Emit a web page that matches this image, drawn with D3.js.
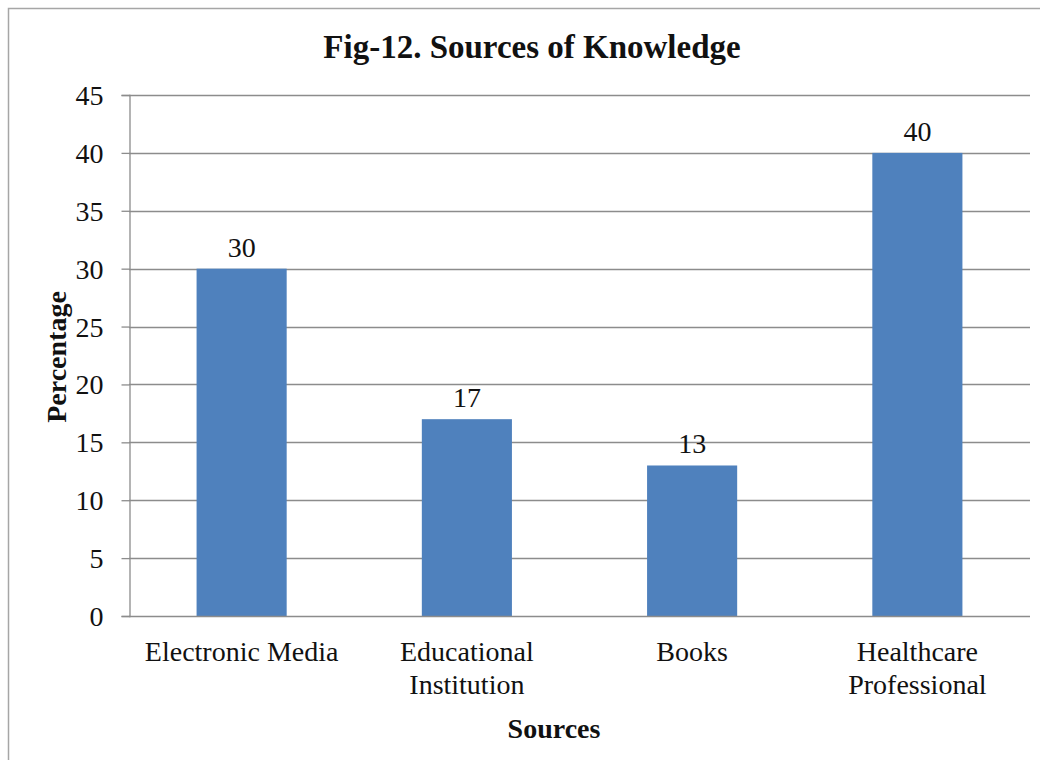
<!DOCTYPE html>
<html>
<head>
<meta charset="utf-8">
<script src="https://cdn.jsdelivr.net/npm/d3@7/dist/d3.min.js"></script>
<style>
  html, body { margin: 0; padding: 0; background: #fff; }
  svg { display: block; font-family: "Liberation Serif", "Times New Roman", serif; }
</style>
</head>
<body>
<svg id="chart" width="1040" height="760"></svg>
<script>
// Sources of knowledge (percentage of respondents)
const categories = ["Electronic Media", "Educational Institution", "Books", "Healthcare Professional"];
const categoryLines = [["Electronic Media"], ["Educational", "Institution"], ["Books"], ["Healthcare", "Professional"]];
const percentages = [30, 17, 13, 40];
const yTicks = [0, 5, 10, 15, 20, 25, 30, 35, 40, 45];

const svg = d3.select("#chart");
const plot = { left: 129, right: 1030, top: 95, bottom: 616 };
const FONT = "'Liberation Serif', 'Times New Roman', serif";
const FS = 28;

// outer chart frame
svg.append("rect")
  .attr("x", 8.5).attr("y", 8.5)
  .attr("width", 1100).attr("height", 800)
  .attr("fill", "#fff").attr("stroke", "#a6a6a6").attr("stroke-width", 1.5);

const x = d3.scaleBand().domain(categories).range([plot.left, plot.right]).paddingInner(0.6).paddingOuter(0.3);
const y = d3.scaleLinear().domain([0, 45]).range([plot.bottom, plot.top]);

// horizontal gridlines
svg.append("g").selectAll("line").data(yTicks.filter(d => d > 0)).join("line")
  .attr("x1", plot.left).attr("x2", plot.right)
  .attr("y1", d => Math.round(y(d)) + 0.5).attr("y2", d => Math.round(y(d)) + 0.5)
  .attr("stroke", "#8c8c8c").attr("stroke-width", 1.3);

// y axis
const yAxis = svg.append("g").attr("transform", `translate(${plot.left + 0.5},0)`)
  .call(d3.axisLeft(y).tickValues(yTicks).tickSize(8).tickPadding(18));
yAxis.attr("font-family", FONT).attr("font-size", FS);
yAxis.select(".domain").attr("stroke", "#8c8c8c").attr("stroke-width", 1.3);
yAxis.selectAll(".tick line").attr("stroke", "#8c8c8c").attr("stroke-width", 1.3);
yAxis.selectAll(".tick text").attr("fill", "#111").attr("dy", "0.34em");

// bars
svg.append("g").selectAll("rect").data(percentages).join("rect")
  .attr("x", (d, i) => x(categories[i]))
  .attr("y", d => y(d))
  .attr("width", x.bandwidth())
  .attr("height", d => y(0) - y(d))
  .attr("fill", "#4f81bd");

// value labels
svg.append("g").selectAll("text").data(percentages).join("text")
  .attr("x", (d, i) => x(categories[i]) + x.bandwidth() / 2)
  .attr("y", d => y(d) - 12)
  .attr("text-anchor", "middle")
  .attr("font-family", FONT).attr("font-size", FS).attr("fill", "#111")
  .text(d => d);

// x axis baseline
svg.append("line")
  .attr("x1", plot.left).attr("x2", plot.right)
  .attr("y1", plot.bottom + 0.5).attr("y2", plot.bottom + 0.5)
  .attr("stroke", "#8c8c8c").attr("stroke-width", 1.3);

// category labels
const catG = svg.append("g");
categoryLines.forEach((lines, i) => {
  const cx = x(categories[i]) + x.bandwidth() / 2;
  lines.forEach((ln, j) => {
    catG.append("text")
      .attr("x", cx).attr("y", 661 + j * 33)
      .attr("text-anchor", "middle")
      .attr("font-family", FONT).attr("font-size", FS).attr("fill", "#111")
      .text(ln);
  });
});

// title
svg.append("text")
  .attr("x", 532).attr("y", 58)
  .attr("text-anchor", "middle")
  .attr("font-family", FONT).attr("font-size", 33).attr("font-weight", "bold").attr("fill", "#111")
  .text("Fig-12. Sources of Knowledge");

// axis titles
svg.append("text")
  .attr("x", 554).attr("y", 738)
  .attr("text-anchor", "middle")
  .attr("font-family", FONT).attr("font-size", FS).attr("font-weight", "bold").attr("fill", "#111")
  .text("Sources");

svg.append("text")
  .attr("transform", "translate(66,357) rotate(-90)")
  .attr("text-anchor", "middle")
  .attr("font-family", FONT).attr("font-size", FS).attr("font-weight", "bold").attr("fill", "#111")
  .text("Percentage");
</script>
</body>
</html>
